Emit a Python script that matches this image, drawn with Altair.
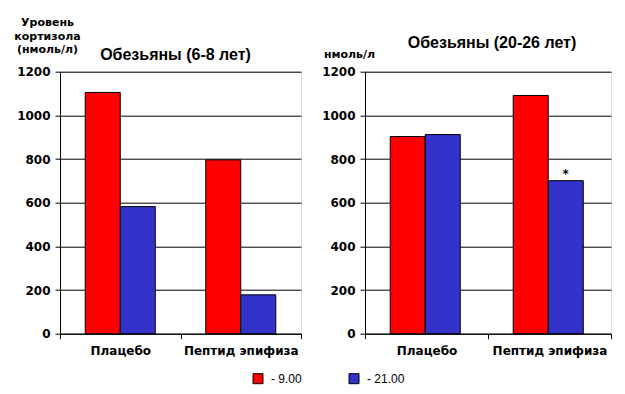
import altair as alt
import pandas as pd

categories = ["Плацебо", "Пептид эпифиза"]
times = ["9.00", "21.00"]
young_9 = [1105, 796]
young_21 = [582, 178]
old_9 = [903, 1091]
old_21 = [912, 701]
y_ticks = [0, 200, 400, 600, 800, 1000, 1200]
colors = ["#FF0000", "#3333CC"]
star_cat = ["Пептид эпифиза"]
star_time = ["21.00"]
star_value = [701]
star_text = ["*"]


def frame(v9, v21):
    rows = []
    for c, a, b in zip(categories, v9, v21):
        rows.append({"cat": c, "time": times[0], "value": a})
        rows.append({"cat": c, "time": times[1], "value": b})
    return pd.DataFrame(rows)


df_young = frame(young_9, young_21)
df_old = frame(old_9, old_21)
df_star = pd.DataFrame({"cat": star_cat, "time": star_time, "value": star_value, "t": star_text})

BOLD = "DejaVu Sans"

color = alt.Color(
    "time:N",
    scale=alt.Scale(domain=times, range=colors),
    legend=alt.Legend(
        title=None, orient="none", legendX=192, legendY=301, direction="horizontal",
        symbolType="square", symbolSize=100, symbolStrokeColor="black", symbolStrokeWidth=1,
        symbolOpacity=1, labelExpr="'- ' + datum.label", labelFont="Liberation Sans",
        labelFontSize=12, labelColor="black", columnPadding=45, labelOffset=7, padding=0,
    ),
)


def x_enc():
    return alt.X(
        "cat:N", sort=categories,
        scale=alt.Scale(paddingInner=0, paddingOuter=0),
        axis=alt.Axis(title=None, labelAngle=0, tickBand="extent", tickSize=5, tickColor="black",
                      domainColor="black", labelFont=BOLD, labelFontWeight="bold", labelFontSize=12,
                      labelColor="black", labelPadding=7, grid=False),
    )


def xoff(po):
    return alt.XOffset("time:N", sort=times, scale=alt.Scale(paddingInner=0, paddingOuter=po))


def y_enc(title, tx, ty):
    return alt.Y(
        "value:Q", scale=alt.Scale(domain=[0, 1200], nice=False),
        axis=alt.Axis(values=y_ticks, format="d", title=title, titleAngle=0, titleX=tx, titleY=ty,
                      titleAlign="center", titleBaseline="alphabetic", titleFont=BOLD,
                      titleFontWeight="bold", titleFontSize=11, titleLineHeight=13.5, titleColor="black",
                      gridColor="black", gridOpacity=1, domainColor="black", tickColor="black",
                      tickSize=5, labelFont=BOLD, labelFontWeight="bold", labelFontSize=12,
                      labelColor="black", labelPadding=5),
    )


left = alt.Chart(df_young).mark_bar(stroke="black", strokeWidth=1).encode(
    x=x_enc(), xOffset=xoff(0.72),
    y=y_enc(["Уровень", "кортизола", "(нмоль/л)"], -13, -46),
    color=color,
).properties(
    width=241, height=262,
    title=alt.Title("Обезьяны (6-8 лет)", font="Liberation Sans", fontSize=16, fontWeight="bold",
                    color="black", frame="group", anchor="middle", baseline="alphabetic",
                    offset=-59.5, dx=-5),
)

right_bars = alt.Chart(df_old).mark_bar(stroke="black", strokeWidth=1).encode(
    x=x_enc(), xOffset=xoff(0.757),
    y=y_enc("нмоль/л", -16, -14),
    color=color,
)
right_star = alt.Chart(df_star).mark_text(font=BOLD, fontWeight="bold", fontSize=12,
                                          baseline="alphabetic", dy=-3, color="black").encode(
    x=alt.X("cat:N", sort=categories), xOffset=alt.XOffset("time:N", sort=times),
    y="value:Q", text="t:N",
)
right = alt.layer(right_bars, right_star).properties(
    width=246, height=262,
    title=alt.Title("Обезьяны (20-26 лет)", font="Liberation Sans", fontSize=16, fontWeight="bold",
                    color="black", frame="group", anchor="middle", baseline="alphabetic",
                    offset=-15, dx=4),
)

chart = alt.hconcat(left, right, spacing=64, bounds="flush").properties(
    padding={"left": 5, "top": 7.7, "right": 5, "bottom": 0},
).configure_view(stroke="black", strokeWidth=1).configure(background="white")

chart.save("out.html", embed_options={"renderer": "svg", "actions": False})
